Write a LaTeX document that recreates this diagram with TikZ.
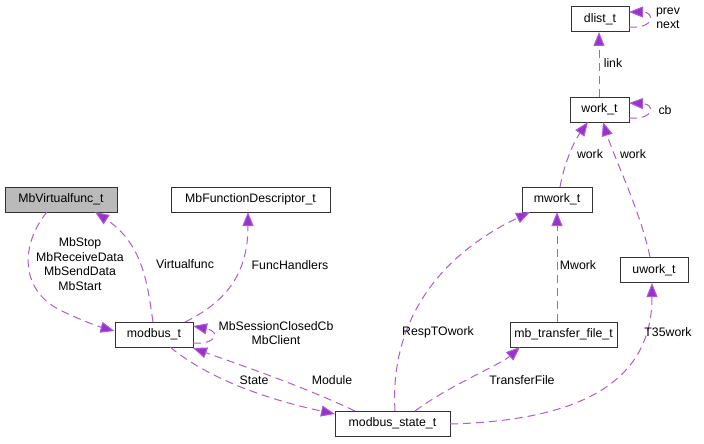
\documentclass[tikz,border=0pt]{standalone}
\usepackage{fontspec}
\setmainfont{Liberation Sans}
\usetikzlibrary{arrows.meta}
\definecolor{edge}{RGB}{153,50,204}
\begin{document}
\begin{tikzpicture}[x=1pt,y=-1pt,
  box/.style={draw=black!80,line width=1pt,fill=white,minimum height=25pt,inner sep=0pt,font=\fontsize{12.3}{14.5}\selectfont},
  rel/.style={draw=edge!80,dashed,dash pattern=on 8pt off 5pt,line width=1pt,-{Triangle[length=14pt,width=11pt,fill=edge]}},
  lab/.style={font=\fontsize{12.3}{14.5}\selectfont,align=center,inner sep=0pt}]
\useasboundingbox (0,0) rectangle (704,444);
\node[box,fill=black!27,minimum width=112pt] (vf) at (61,199.5) {MbVirtualfunc\_t};
\node[box,minimum width=159pt] (fd) at (250.5,199.5) {MbFunctionDescriptor\_t};
\node[box,minimum width=78pt] (mb) at (154,334.5) {modbus\_t};
\node[box,minimum width=115pt] (ms) at (392.5,423.5) {modbus\_state\_t};
\node[box,minimum width=107pt] (tf) at (563.5,334.5) {mb\_transfer\_file\_t};
\node[box,minimum width=70pt] (mw) at (557,199.5) {mwork\_t};
\node[box,minimum width=68pt] (uw) at (654,270) {uwork\_t};
\node[box,minimum width=59pt] (wk) at (599.5,109.5) {work\_t};
\node[box,minimum width=58pt] (dl) at (600,19) {dlist\_t};
\draw[rel] (47,212) .. controls (20,245) and (20,290) .. (60,310) .. controls (80,320) and (100,327) .. (mb.west|-0,331);
\node[lab] at (80,264) {MbStop\\MbReceiveData\\MbSendData\\MbStart};
\draw[rel] (153,322) .. controls (148,290) and (145,245) .. (95,212);
\node[lab] at (185,264) {Virtualfunc};
\draw[rel] (185,322) .. controls (230,300) and (248,270) .. (248,212);
\node[lab] at (290,265) {FuncHandlers};
\draw[rel] (193,343) .. controls (215,345) and (222,332) .. (193,326);
\node[lab] at (276,333) {MbSessionClosedCb\\MbClient};
\draw[rel] (170,347) .. controls (210,380) and (270,400) .. (335,414);
\node[lab] at (254,380) {State};
\draw[rel] (355,411) .. controls (300,385) and (240,365) .. (193,348);
\node[lab] at (332,380) {Module};
\draw[rel] (395,411) .. controls (390,330) and (430,260) .. (530,212);
\node[lab] at (438,332) {RespTOwork};
\draw[rel] (415,411) .. controls (450,385) and (500,365) .. (520,347);
\node[lab] at (522,380) {TransferFile};
\draw[rel] (450,424) .. controls (600,420) and (652,370) .. (652,283);
\node[lab] at (668,332) {T35work};
\draw[rel] (557,322) -- (557,212);
\node[lab] at (578,265) {Mwork};
\draw[rel] (560,187) .. controls (565,160) and (575,140) .. (588,122);
\node[lab] at (590,154) {work};
\draw[rel] (650,257) .. controls (640,210) and (615,160) .. (603,122);
\node[lab] at (633,154) {work};
\draw[rel] (629,118) .. controls (655,120) and (655,104) .. (629,103);
\node[lab] at (665,110) {cb};
\draw[rel] (599,97) -- (599,32);
\node[lab] at (613,63) {link};
\draw[rel] (629,27) .. controls (655,29) and (655,12) .. (629,12);
\node[lab] at (668,18.5) {prev\\next};
\end{tikzpicture}
\end{document}
